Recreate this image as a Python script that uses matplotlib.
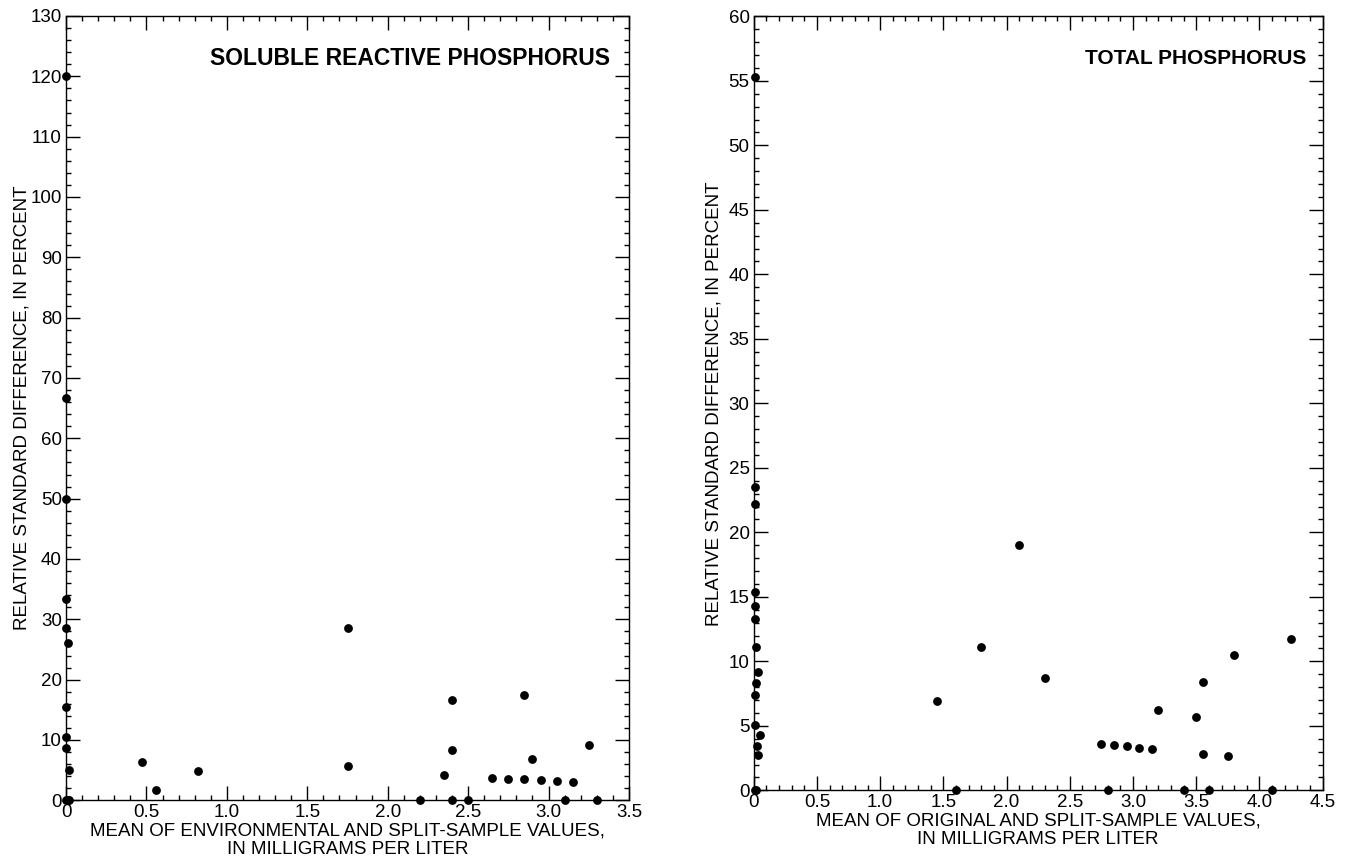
import matplotlib
matplotlib.use("Agg")
import matplotlib.pyplot as plt
from matplotlib.ticker import MultipleLocator, FuncFormatter

plt.rcParams['font.family'] = ['Liberation Sans', 'DejaVu Sans']

# Soluble reactive phosphorus
srp_x = [0.0, 0.0, 0.0, 0.0, 0.0, 0.01, 0.0, 0.0, 0.0, 0.02, 0.0, 0.01, 0.02,
         0.47, 0.56, 0.82, 1.75, 1.75, 2.20, 2.35, 2.40, 2.40, 2.40, 2.50,
         2.65, 2.75, 2.85, 2.85, 2.90, 2.95, 3.05, 3.10, 3.15, 3.25, 3.30]
srp_y = [120.0, 66.7, 50.0, 33.3, 28.6, 26.1, 15.4, 10.5, 8.7, 5.1, 0.0, 0.0, 0.0,
         6.3, 1.7, 4.9, 5.7, 28.6, 0.0, 4.2, 16.6, 8.3, 0.0, 0.0,
         3.75, 3.6, 17.5, 3.5, 6.85, 3.37, 3.25, 0.0, 3.1, 9.2, 0.0]

# Total phosphorus
tp_x = [0.01, 0.01, 0.01, 0.01, 0.01, 0.01, 0.02, 0.035, 0.02, 0.01, 0.01, 0.05,
        0.03, 0.035, 0.01, 0.02,
        1.45, 1.60, 1.80, 2.10, 2.30, 2.75, 2.80, 2.85, 2.95, 3.05, 3.15, 3.20,
        3.40, 3.50, 3.55, 3.55, 3.60, 3.75, 3.80, 4.10, 4.25]
tp_y = [55.3, 23.5, 22.2, 15.4, 14.3, 13.3, 11.1, 9.2, 8.3, 7.4, 5.1, 4.3,
        3.4, 2.75, 0.0, 0.0,
        6.9, 0.0, 11.1, 19.0, 8.7, 3.6, 0.0, 3.5, 3.4, 3.3, 3.2, 6.2,
        0.0, 5.7, 8.4, 2.8, 0.0, 2.65, 10.5, 0.0, 11.75]

ylabel = "RELATIVE STANDARD DIFFERENCE, IN PERCENT"

fig = plt.figure(figsize=(13.48, 8.59), dpi=100)
ax1 = fig.add_axes([66/1348, 58.7/859, 563/1348, 784.3/859])
ax2 = fig.add_axes([753.7/1348, 68.7/859, 569/1348, 774/859])


def fmt_x(v, pos):
    return '0' if abs(v) < 1e-9 else f'{v:.1f}'


def style(ax, xmax, xmaj, xmin, ymax, ymaj, ymin, title, tsize, tx, xlabel, ylx):
    ax.set_xlim(0, xmax)
    ax.set_ylim(0, ymax)
    ax.xaxis.set_major_locator(MultipleLocator(xmaj))
    ax.xaxis.set_minor_locator(MultipleLocator(xmin))
    ax.yaxis.set_major_locator(MultipleLocator(ymaj))
    ax.yaxis.set_minor_locator(MultipleLocator(ymin))
    ax.xaxis.set_major_formatter(FuncFormatter(fmt_x))
    ax.tick_params(which='both', direction='in', top=True, right=True,
                   labelsize=13.5, colors='black', width=1, pad=3)
    ax.tick_params(which='major', length=10)
    ax.tick_params(which='minor', length=3.5)
    for s in ax.spines.values():
        s.set_linewidth(1.0)
        s.set_color('black')
    ax.set_xlabel(xlabel, fontsize=13.5, labelpad=1, linespacing=1.05)
    ax.set_ylabel(ylabel, fontsize=13.5)
    ax.yaxis.set_label_coords(ylx, 0.5)
    ax.text(tx, 0.946, title, transform=ax.transAxes, ha='right', va='center',
            fontsize=tsize, fontweight='bold')


style(ax1, 3.5, 0.5, 0.1, 130, 10, 2, "SOLUBLE REACTIVE PHOSPHORUS", 16.5, 0.966,
      "MEAN OF ENVIRONMENTAL AND SPLIT-SAMPLE VALUES,\nIN MILLIGRAMS PER LITER", -0.063)
style(ax2, 4.5, 0.5, 0.1, 60, 5, 1, "TOTAL PHOSPHORUS", 15, 0.971,
      "MEAN OF ORIGINAL AND SPLIT-SAMPLE VALUES,\nIN MILLIGRAMS PER LITER", -0.054)

ax1.scatter(srp_x, srp_y, s=40, color='black', zorder=5, clip_on=False, linewidths=0)
ax2.scatter(tp_x, tp_y, s=40, color='black', zorder=5, clip_on=False, linewidths=0)

fig.savefig("out.png", dpi=100)
